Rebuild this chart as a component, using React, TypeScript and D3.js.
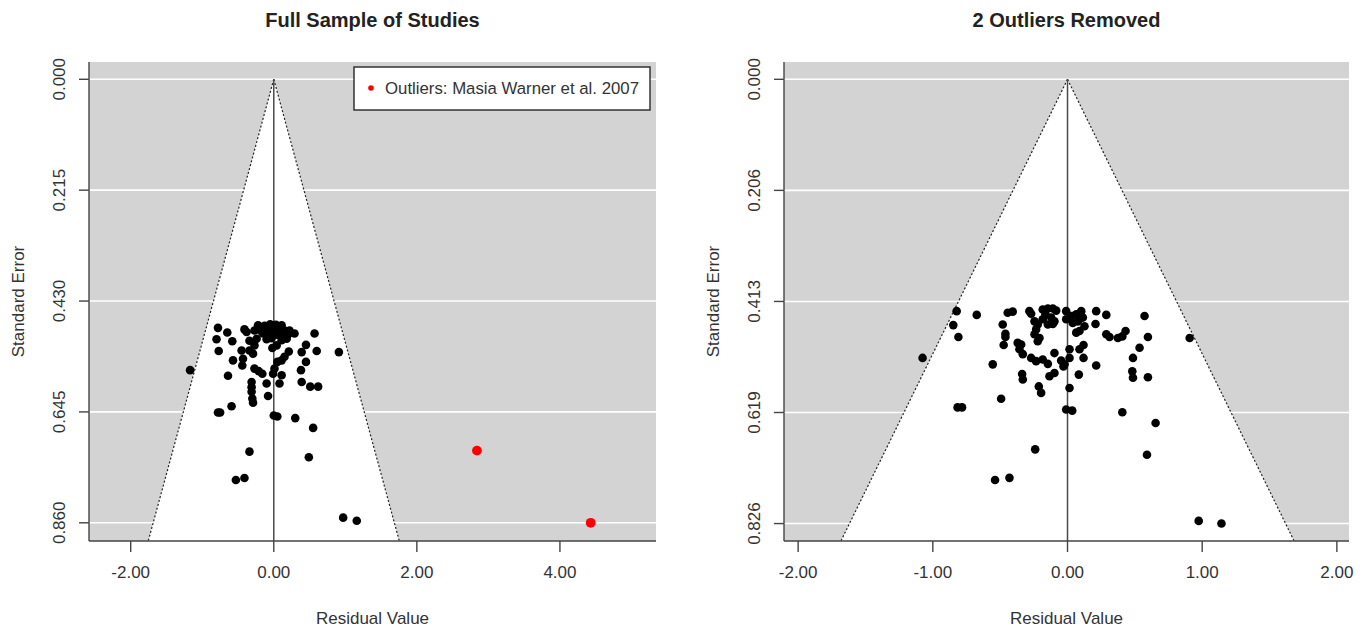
import React from 'react';
import * as d3 from 'd3';

// full sample (black points)
const fullResid = [
  -0.78, -0.65, -0.41, -0.80, -0.58, -0.77, -1.17,
  0.57, 0.91, 0.60, 0.45, 0.39, 0.45, 0.38, 0.39, 0.51, 0.62,
  0.21, 0.15, 0.11, 0.05, -0.02, -0.29, -0.45, -0.43, -0.44, -0.57,
  -0.27, -0.21, -0.16, 0.01, -0.01, 0.11, 0.08, -0.64,
  -0.31, -0.31, -0.31, -0.30, -0.10, -0.08, -0.59, -0.29,
  -0.78, -0.75, 0.00, 0.05, 0.30, 0.55, -0.34, 0.49, -0.53, -0.41, 0.97, 1.16,
  0.22, 0.29, -0.34,
  -0.27, -0.20, -0.13, -0.08, -0.03, 0.01, 0.08, 0.15, -0.15, -0.08, -0.01, 0.06, 0.13,
  -0.24, -0.10, -0.03, 0.11, 0.18, -0.27, -0.34, 0.04, -0.22, 0.11, -0.38, -0.05, 0.03,
  -0.18, 0.20,
];
const fullSE = [
  0.482, 0.491, 0.485, 0.504, 0.508, 0.527, 0.564,
  0.493, 0.529, 0.527, 0.515, 0.529, 0.548, 0.564, 0.587, 0.596, 0.596,
  0.528, 0.538, 0.545, 0.548, 0.521, 0.532, 0.526, 0.542, 0.555, 0.545,
  0.561, 0.566, 0.571, 0.561, 0.571, 0.574, 0.590, 0.575,
  0.587, 0.597, 0.606, 0.619, 0.590, 0.614, 0.634, 0.627,
  0.646, 0.646, 0.652, 0.654, 0.657, 0.676, 0.722, 0.733, 0.777, 0.773, 0.850, 0.856,
  0.487, 0.493, 0.507,
  0.487, 0.482, 0.478, 0.483, 0.480, 0.487, 0.482, 0.487, 0.493, 0.496, 0.493, 0.496, 0.500,
  0.503, 0.504, 0.502, 0.506, 0.503, 0.516, 0.526, 0.516, 0.477, 0.477, 0.490, 0.475, 0.476,
  0.488, 0.495,
];

// the two outliers (red)
const outlierResid = [2.84, 4.43];
const outlierSE = [0.720, 0.860];

// outliers removed
const trimResid = [
  -0.823, -0.674, -0.848, -0.810, -1.076, -0.444, -0.407, -0.481, -0.461, -0.461,
  -0.474, -0.555, -0.493, -0.283, -0.270, -0.245, -0.221, -0.233, -0.245, -0.208,
  -0.221, -0.184, -0.146, -0.109, -0.084, -0.164, -0.121, -0.097, -0.184, -0.146,
  -0.109, -0.010, 0.028, -0.010, 0.065, 0.102, 0.039, 0.077, 0.114, 0.126,
  0.089, 0.065, 0.213, 0.208, 0.288, 0.288, -0.344, -0.357, -0.332, -0.370,
  -0.270, -0.233, -0.184, -0.146, -0.097, -0.047, -0.022, 0.015, 0.015, 0.089,
  0.119, 0.119, 0.213, -0.337, -0.332, -0.134, -0.097, -0.213, -0.196, 0.015,
  0.084, -0.030, 0.572, 0.597, 0.907, 0.535, 0.486, 0.481, 0.486, 0.597,
  0.312, 0.374, 0.407, 0.431, -0.816, -0.783, -0.010, 0.035, 0.407, 0.654,
  -0.240, 0.590, -0.538, -0.431, 0.974, 1.143,
];
const trimSE = [
  0.431, 0.438, 0.457, 0.479, 0.518, 0.434, 0.432, 0.456, 0.473, 0.479,
  0.494, 0.530, 0.594, 0.431, 0.436, 0.450, 0.456, 0.465, 0.474, 0.481,
  0.487, 0.428, 0.426, 0.426, 0.430, 0.437, 0.443, 0.450, 0.446, 0.456,
  0.455, 0.431, 0.440, 0.446, 0.437, 0.431, 0.453, 0.450, 0.443, 0.459,
  0.468, 0.471, 0.431, 0.455, 0.438, 0.474, 0.493, 0.502, 0.511, 0.490,
  0.518, 0.524, 0.521, 0.529, 0.509, 0.523, 0.530, 0.502, 0.518, 0.502,
  0.494, 0.518, 0.532, 0.548, 0.558, 0.552, 0.546, 0.571, 0.583, 0.574,
  0.549, 0.534, 0.440, 0.479, 0.481, 0.499, 0.518, 0.543, 0.555, 0.554,
  0.479, 0.481, 0.478, 0.468, 0.610, 0.610, 0.614, 0.616, 0.619, 0.639,
  0.688, 0.698, 0.745, 0.741, 0.821, 0.826,
];

const fullXTicks = [-2, 0, 2, 4];
const fullXLabels = ['-2.00', '0.00', '2.00', '4.00'];
const fullYTicks = [0, 0.215, 0.43, 0.645, 0.86];
const fullYLabels = ['0.000', '0.215', '0.430', '0.645', '0.860'];

const trimXTicks = [-2, -1, 0, 1, 2];
const trimXLabels = ['-2.00', '-1.00', '0.00', '1.00', '2.00'];
const trimYTicks = [0, 0.2065, 0.413, 0.6195, 0.826];
const trimYLabels = ['0.000', '0.206', '0.413', '0.619', '0.826'];

const legendLabel = 'Outliers: Masia Warner et al. 2007';

const FONT = '"Liberation Sans", Arial, sans-serif';

function FunnelPanel(props: any) {
  const { id, left, right, xDomain, yDomain, title, resid, se, xTicks, xLabels, yTicks, yLabels, outRes, outSe, legend } = props;
  const top = 62;
  const bottom = 541;

  const x = d3.scaleLinear().domain(xDomain).range([left, right]);
  const y = d3.scaleLinear().domain(yDomain).range([top, bottom]);
  const seMax = yDomain[1];

  const line = d3.line();
  const funnel = line([
    [x(-1.96 * seMax), y(seMax)],
    [x(0), y(0)],
    [x(1.96 * seMax), y(seMax)],
  ]) + 'Z';
  const leftEdge = line([[x(0), y(0)], [x(-1.96 * seMax), y(seMax)]]);
  const rightEdge = line([[x(0), y(0)], [x(1.96 * seMax), y(seMax)]]);
  const cx = (left + right) / 2;

  return (
    <g fontFamily={FONT}>
      <clipPath id={id}>
        <rect x={left} y={top} width={right - left} height={bottom - top} />
      </clipPath>
      <rect x={left} y={top} width={right - left} height={bottom - top} fill="#d3d3d3" />
      {yTicks.map((t: number, i: number) => (
        <line key={'g' + i} x1={left} x2={right} y1={y(t)} y2={y(t)} stroke="#fff" strokeWidth={1.6} />
      ))}
      <g clipPath={`url(#${id})`}>
        <path d={funnel} fill="#fff" />
        <path d={leftEdge!} stroke="#222" strokeWidth={1.2} strokeDasharray="2,2" fill="none" />
        <path d={rightEdge!} stroke="#222" strokeWidth={1.2} strokeDasharray="2,2" fill="none" />
        <line x1={x(0)} x2={x(0)} y1={y(0)} y2={bottom} stroke="#4a4a4a" strokeWidth={1.5} />
        {resid.map((r: number, i: number) => (
          <circle key={'p' + i} cx={x(r)} cy={y(se[i])} r={4.3} fill="#000" />
        ))}
        {outRes && outRes.map((r: number, i: number) => (
          <circle key={'o' + i} cx={x(r)} cy={y(outSe[i])} r={4.9} fill="#ff0000" />
        ))}
      </g>

      {/* axes */}
      <line x1={left} x2={left} y1={top} y2={bottom} stroke="#444" strokeWidth={1.4} />
      <line x1={left} x2={right} y1={bottom} y2={bottom} stroke="#444" strokeWidth={1.4} />
      {yTicks.map((t: number, i: number) => (
        <g key={'yt' + i}>
          <line x1={left - 10} x2={left} y1={y(t)} y2={y(t)} stroke="#444" strokeWidth={1.4} />
          <text transform={`translate(${left - 24},${y(t)}) rotate(-90)`} textAnchor="middle" fontSize={17} fill="#333">
            {yLabels[i]}
          </text>
        </g>
      ))}
      {xTicks.map((t: number, i: number) => (
        <g key={'xt' + i}>
          <line x1={x(t)} x2={x(t)} y1={bottom} y2={bottom + 11} stroke="#444" strokeWidth={1.4} />
          <text x={x(t)} y={578} textAnchor="middle" fontSize={17} fill="#333">
            {xLabels[i]}
          </text>
        </g>
      ))}

      <text x={cx} y={624} textAnchor="middle" fontSize={17} fill="#333">Residual Value</text>
      <text transform={`translate(${left - 65},${(top + bottom) / 2}) rotate(-90)`} textAnchor="middle" fontSize={17} fill="#333">
        Standard Error
      </text>
      <text x={cx} y={27} textAnchor="middle" fontSize={20} fontWeight="bold" fill="#222">{title}</text>

      {legend && (
        <g>
          <rect x={354} y={67} width={296} height={43} fill="#fff" stroke="#333" strokeWidth={1.5} />
          <circle cx={371} cy={88} r={2.8} fill="#ff0000" />
          <text x={385} y={94} fontSize={16.8} fill="#333">{legend}</text>
        </g>
      )}
    </g>
  );
}

export default function App() {
  return (
    <svg width={1369} height={630} style={{ position: 'absolute', left: 0, top: 0, background: '#fff' }}>
      <FunnelPanel
        id="clipFull"
        left={89}
        right={656}
        xDomain={[-2.583, 5.343]}
        yDomain={[-0.0335, 0.8953]}
        title="Full Sample of Studies"
        resid={fullResid}
        se={fullSE}
        xTicks={fullXTicks}
        xLabels={fullXLabels}
        yTicks={fullYTicks}
        yLabels={fullYLabels}
        outRes={outlierResid}
        outSe={outlierSE}
        legend={legendLabel}
      />
      <FunnelPanel
        id="clipTrim"
        left={784}
        right={1349}
        xDomain={[-2.105, 2.09]}
        yDomain={[-0.0322, 0.8584]}
        title="2 Outliers Removed"
        resid={trimResid}
        se={trimSE}
        xTicks={trimXTicks}
        xLabels={trimXLabels}
        yTicks={trimYTicks}
        yLabels={trimYLabels}
      />
    </svg>
  );
}
